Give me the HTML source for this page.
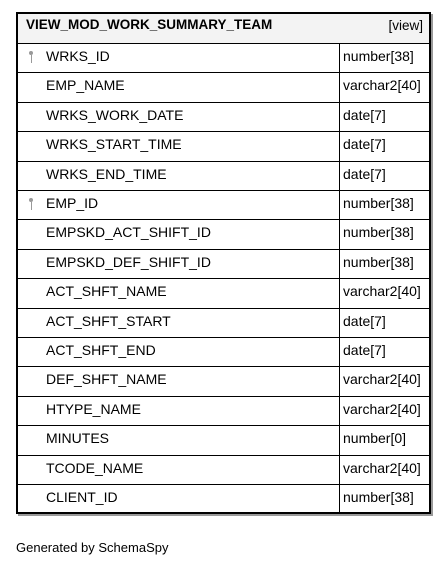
<!DOCTYPE html>
<html><head><style>
body{margin:0;width:447px;height:569px;background:#fff;font-family:"Liberation Sans",Arial,sans-serif;position:relative;overflow:hidden}
.box{position:absolute;left:16px;top:12px;width:411px;height:498px;border:2px solid #000;box-shadow:2px 2px 0 #999;}
.hdr{position:absolute;left:0;top:0;width:411px;height:29px;background:#f3f3f3;border-bottom:1px solid #000}
.hdr .n{position:absolute;left:8px;top:3px;font-size:13.5px;font-weight:bold}
.hdr .v{position:absolute;right:6px;top:4px;font-size:13.5px}
.r{position:absolute;left:0;width:411px;height:29.4px;border-bottom:1px solid #000;box-sizing:border-box;font-size:14px}
.r .c{position:absolute;left:28px;top:4px}
.r .t{position:absolute;left:325px;top:4px}
.div{position:absolute;left:321px;top:30px;width:1px;height:468px;background:#000}
.k{position:absolute;left:11px;top:7px;width:4px;height:4px;border-radius:50%;background:#999}
.k:after{content:"";position:absolute;left:1.5px;top:4px;width:1px;height:8px;background:#999}
.f{position:absolute;left:16px;top:540px;font-size:13px}
</style></head><body>
<div class="box">
<div class="hdr"><span class="n">VIEW_MOD_WORK_SUMMARY_TEAM</span><span class="v">[view]</span></div>
<div class="r" style="top:30px"><i class="k"></i><span class="c">WRKS_ID</span><span class="t">number[38]</span></div>
<div class="r" style="top:59.4px"><span class="c">EMP_NAME</span><span class="t">varchar2[40]</span></div>
<div class="r" style="top:88.8px"><span class="c">WRKS_WORK_DATE</span><span class="t">date[7]</span></div>
<div class="r" style="top:118.2px"><span class="c">WRKS_START_TIME</span><span class="t">date[7]</span></div>
<div class="r" style="top:147.6px"><span class="c">WRKS_END_TIME</span><span class="t">date[7]</span></div>
<div class="r" style="top:177px"><i class="k"></i><span class="c">EMP_ID</span><span class="t">number[38]</span></div>
<div class="r" style="top:206.4px"><span class="c">EMPSKD_ACT_SHIFT_ID</span><span class="t">number[38]</span></div>
<div class="r" style="top:235.8px"><span class="c">EMPSKD_DEF_SHIFT_ID</span><span class="t">number[38]</span></div>
<div class="r" style="top:265.2px"><span class="c">ACT_SHFT_NAME</span><span class="t">varchar2[40]</span></div>
<div class="r" style="top:294.6px"><span class="c">ACT_SHFT_START</span><span class="t">date[7]</span></div>
<div class="r" style="top:324px"><span class="c">ACT_SHFT_END</span><span class="t">date[7]</span></div>
<div class="r" style="top:353.4px"><span class="c">DEF_SHFT_NAME</span><span class="t">varchar2[40]</span></div>
<div class="r" style="top:382.8px"><span class="c">HTYPE_NAME</span><span class="t">varchar2[40]</span></div>
<div class="r" style="top:412.2px"><span class="c">MINUTES</span><span class="t">number[0]</span></div>
<div class="r" style="top:441.6px"><span class="c">TCODE_NAME</span><span class="t">varchar2[40]</span></div>
<div class="r" style="top:471px;border-bottom:none"><span class="c">CLIENT_ID</span><span class="t">number[38]</span></div>
<div class="div"></div>
</div>
<div class="f">Generated by SchemaSpy</div>
</body></html>
